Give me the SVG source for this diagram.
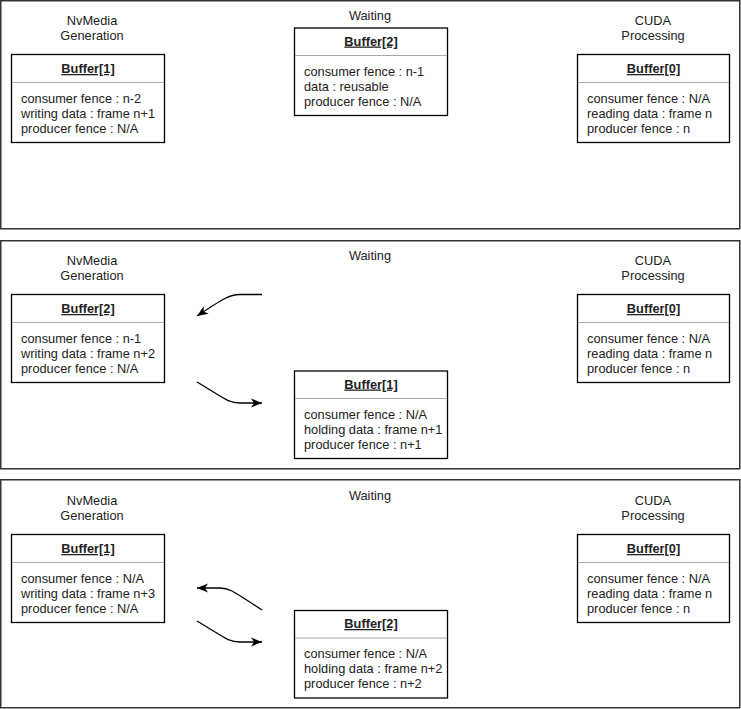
<svg xmlns="http://www.w3.org/2000/svg" width="741" height="709" viewBox="0 0 741 709">
<style>
.panel{fill:#fff;stroke:#333;stroke-width:1.5}
.box{fill:#fff;stroke:#000;stroke-width:1.3}
.sep{stroke:#aaa;stroke-width:1}
text{font-family:"Liberation Sans",Arial,sans-serif;font-size:12.8px;fill:#222}
.ttl{font-weight:bold;text-anchor:middle;text-decoration:underline}
.lbl{text-anchor:middle}
.conn{fill:none;stroke:#000;stroke-width:1.3}
</style>
<defs>
<marker id="ah" markerUnits="userSpaceOnUse" markerWidth="12" markerHeight="10" refX="11" refY="5" orient="auto">
<path d="M0,0.5 L11,5 L0,9.5 L3,5 Z" fill="#000"/>
</marker>
</defs>
<rect width="741" height="709" fill="#fff"/>
<g id="panel1">
<rect class="panel" x="0.75" y="0.75" width="739" height="228"/>
<text class="lbl" x="92" y="25">NvMedia</text>
<text class="lbl" x="92" y="40">Generation</text>
<text class="lbl" x="370" y="19.5">Waiting</text>
<text class="lbl" x="653" y="25">CUDA</text>
<text class="lbl" x="653" y="40">Processing</text>
</g>
<g id="panel2">
<rect class="panel" x="0.75" y="240.75" width="739" height="228"/>
<text class="lbl" x="92" y="265">NvMedia</text>
<text class="lbl" x="92" y="280">Generation</text>
<text class="lbl" x="370" y="259.5">Waiting</text>
<text class="lbl" x="653" y="265">CUDA</text>
<text class="lbl" x="653" y="280">Processing</text>
</g>
<g id="panel3">
<rect class="panel" x="0.75" y="479.75" width="739" height="228"/>
<text class="lbl" x="92" y="505">NvMedia</text>
<text class="lbl" x="92" y="520">Generation</text>
<text class="lbl" x="370" y="499.5">Waiting</text>
<text class="lbl" x="653" y="505">CUDA</text>
<text class="lbl" x="653" y="520">Processing</text>
</g>
<g id="p1-buffer1">
<rect class="box" x="11.5" y="54.5" width="153" height="88"/>
<text class="ttl" x="88" y="73">Buffer[1]</text>
<line class="sep" x1="12" y1="82.5" x2="164" y2="82.5"/>
<text x="21" y="102.5">consumer fence : n-2</text>
<text x="21" y="117.5">writing data : frame n+1</text>
<text x="21" y="132.5">producer fence : N/A</text>
</g>
<g id="p1-buffer2">
<rect class="box" x="294.5" y="28" width="153" height="87.5"/>
<text class="ttl" x="371" y="45.5">Buffer[2]</text>
<line class="sep" x1="295" y1="55.5" x2="447" y2="55.5"/>
<text x="304" y="75.5">consumer fence : n-1</text>
<text x="304" y="90.5">data : reusable</text>
<text x="304" y="105.5">producer fence : N/A</text>
</g>
<g id="p1-buffer0">
<rect class="box" x="577.5" y="54.5" width="152" height="88"/>
<text class="ttl" x="653.5" y="73">Buffer[0]</text>
<line class="sep" x1="578" y1="82.5" x2="729" y2="82.5"/>
<text x="587" y="102.5">consumer fence : N/A</text>
<text x="587" y="117.5">reading data : frame n</text>
<text x="587" y="132.5">producer fence : n</text>
</g>
<g id="p2-buffer2">
<rect class="box" x="11.5" y="294.5" width="153" height="88"/>
<text class="ttl" x="88" y="313">Buffer[2]</text>
<line class="sep" x1="12" y1="322.5" x2="164" y2="322.5"/>
<text x="21" y="342.5">consumer fence : n-1</text>
<text x="21" y="357.5">writing data : frame n+2</text>
<text x="21" y="372.5">producer fence : N/A</text>
</g>
<g id="p2-buffer1">
<rect class="box" x="294.5" y="371" width="153" height="87.5"/>
<text class="ttl" x="371" y="388.5">Buffer[1]</text>
<line class="sep" x1="295" y1="398.5" x2="447" y2="398.5"/>
<text x="304" y="418.5">consumer fence : N/A</text>
<text x="304" y="433.5">holding data : frame n+1</text>
<text x="304" y="448.5">producer fence : n+1</text>
</g>
<g id="p2-buffer0">
<rect class="box" x="577.5" y="294.5" width="152" height="88"/>
<text class="ttl" x="653.5" y="313">Buffer[0]</text>
<line class="sep" x1="578" y1="322.5" x2="729" y2="322.5"/>
<text x="587" y="342.5">consumer fence : N/A</text>
<text x="587" y="357.5">reading data : frame n</text>
<text x="587" y="372.5">producer fence : n</text>
</g>
<g id="p3-buffer1">
<rect class="box" x="11.5" y="534.5" width="153" height="88"/>
<text class="ttl" x="88" y="553">Buffer[1]</text>
<line class="sep" x1="12" y1="562.5" x2="164" y2="562.5"/>
<text x="21" y="582.5">consumer fence : N/A</text>
<text x="21" y="597.5">writing data : frame n+3</text>
<text x="21" y="612.5">producer fence : N/A</text>
</g>
<g id="p3-buffer2">
<rect class="box" x="294.5" y="610.5" width="153" height="87.5"/>
<text class="ttl" x="371" y="628">Buffer[2]</text>
<line class="sep" x1="295" y1="638" x2="447" y2="638"/>
<text x="304" y="658">consumer fence : N/A</text>
<text x="304" y="673">holding data : frame n+2</text>
<text x="304" y="688">producer fence : n+2</text>
</g>
<g id="p3-buffer0">
<rect class="box" x="577.5" y="534.5" width="152" height="88"/>
<text class="ttl" x="653.5" y="553">Buffer[0]</text>
<line class="sep" x1="578" y1="562.5" x2="729" y2="562.5"/>
<text x="587" y="582.5">consumer fence : N/A</text>
<text x="587" y="597.5">reading data : frame n</text>
<text x="587" y="612.5">producer fence : n</text>
</g>
<g id="connectors">
<path class="conn" marker-end="url(#ah)" d="M262,294.5 L240,294.5 C230,294.5 224,298 197,316"/>
<path class="conn" marker-end="url(#ah)" d="M197,382 C224,398 228,403 240,403 L262,403"/>
<path class="conn" marker-end="url(#ah)" d="M262,610 C234,592 230,588 220,588 L197,588"/>
<path class="conn" marker-end="url(#ah)" d="M197,621 C224,637 228,642 240,642 L262,642"/>
</g>
</svg>
